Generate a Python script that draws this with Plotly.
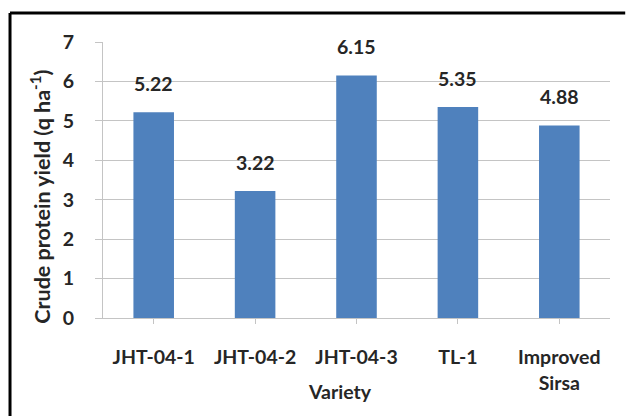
import plotly.graph_objects as go

# Crude protein yield by variety
varieties = ["JHT-04-1", "JHT-04-2", "JHT-04-3", "TL-1", "Improved<br>Sirsa"]
protein_yield = [5.22, 3.22, 6.15, 5.35, 4.88]
y_ticks = [0, 1, 2, 3, 4, 5, 6, 7]

FONT = "Lato"
SIZE = 19.5
TEXT_COLOR = "#262626"
GRID = "#c4c4c4"
BAR_COLOR = "#4F81BD"

def text_font(size=SIZE):
    return dict(family=FONT, size=size, color=TEXT_COLOR, weight="bold")

fig = go.Figure()
fig.add_trace(go.Bar(
    x=list(range(len(varieties))),
    y=protein_yield,
    marker=dict(color=BAR_COLOR, line=dict(width=0)),
    width=0.4,
    hoverinfo="skip",
))

# value labels above each bar
for i, v in enumerate(protein_yield):
    fig.add_annotation(
        x=i, y=v, text=f"{v:.2f}", showarrow=False,
        yshift=29, yanchor="middle", font=text_font(),
    )

# axis titles
fig.add_annotation(
    xref="paper", yref="paper", x=-0.124, y=0.44,
    text="Crude protein yield (q ha<sup>-1</sup>)", textangle=-90,
    showarrow=False, xanchor="center", yanchor="middle", font=text_font(21.5),
)
fig.add_annotation(
    xref="paper", yref="paper", x=0.467, y=-0.265,
    text="Variety", showarrow=False, xanchor="center", yanchor="middle",
    font=text_font(),
)

# outer frame of the chart (left and top edges, kept inside the page)
frame = dict(color="black", width=3)
fig.add_shape(type="line", xref="paper", yref="paper",
              x0=-0.1834, x1=-0.1834, y0=-0.355, y1=1.105, line=frame, layer="above")
fig.add_shape(type="line", xref="paper", yref="paper",
              x0=-0.1834, x1=1.03, y0=1.105, y1=1.105, line=frame, layer="above")

fig.update_layout(
    width=626, height=417,
    margin=dict(l=103, r=16, t=42, b=99),
    paper_bgcolor="white", plot_bgcolor="white",
    showlegend=False,
    font=text_font(),
    xaxis=dict(
        range=[-0.5, len(varieties) - 0.5],
        tickmode="array",
        tickvals=list(range(len(varieties))),
        ticktext=varieties,
        tickson="boundaries",
        ticks="outside", ticklen=5, tickcolor=GRID,
        showline=True, linecolor=GRID, linewidth=1,
        showgrid=False, zeroline=False,
        ticklabelstandoff=17,
        tickfont=text_font(),
    ),
    yaxis=dict(
        range=[0, 7],
        tickmode="array", tickvals=y_ticks,
        ticks="outside", ticklen=7, tickcolor=GRID,
        showline=True, linecolor=GRID, linewidth=1,
        showgrid=True, gridcolor=GRID, gridwidth=1,
        zeroline=False,
        ticklabelstandoff=17,
        tickfont=text_font(),
    ),
)

fig.write_html("out.html")
